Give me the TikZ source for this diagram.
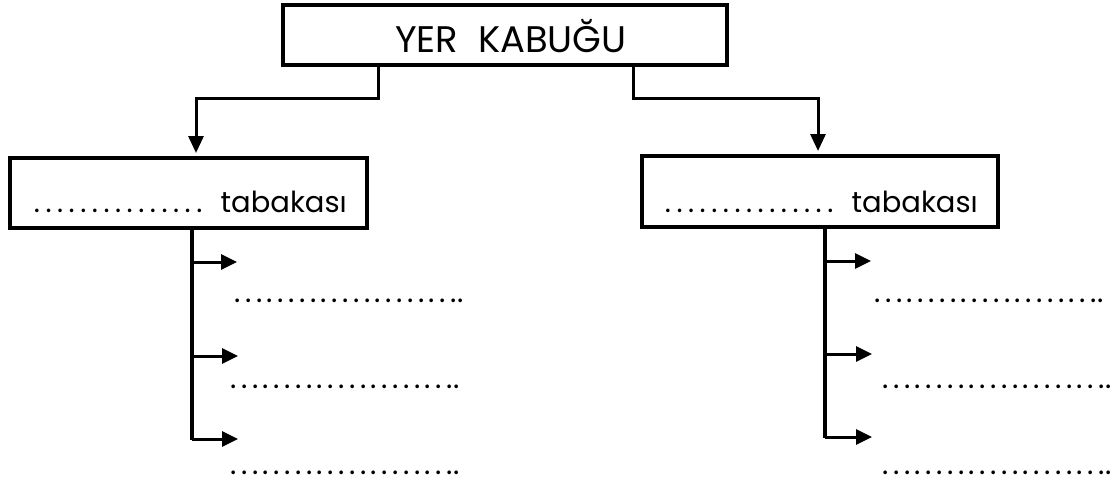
\documentclass[tikz,border=0pt]{standalone}
\usepackage{fontspec}
\setmainfont{Poppins}
\usetikzlibrary{arrows.meta}
\newcommand\dotrow[2]{\foreach \i in {1,...,#1}{\makebox[#2]{.}}}
\tikzset{
  box/.style={draw, line width=4pt, rectangle, inner sep=0pt},
  conn/.style={line width=3pt, -{Triangle[length=17pt,width=15pt]}},
  trunk/.style={line width=3.5pt},
  twig/.style={line width=3pt, -{Triangle[length=16pt,width=15pt]}},
  dotline/.style={anchor=base west, inner sep=0pt, font=\fontsize{30}{32}\selectfont},
}
\begin{document}
\begin{tikzpicture}[x=1pt,y=-1pt]
\useasboundingbox (0,0) rectangle (1118,483);
\node[box, minimum width=444pt, minimum height=60pt] (top) at (505,35) {};
\node[inner sep=0pt, font=\fontsize{37}{40}\selectfont] (toptext) at (511,36) {YER\ \ KABUĞU};
\node[box, minimum width=357pt, minimum height=70pt] (left) at (188.5,193) {};
\node[box, minimum width=356pt, minimum height=71pt] (right) at (820,191.5) {};
\node[dotline, font=\fontsize{29}{32}\selectfont] (lt) at (31,212) {\dotrow{15}{11.6pt}\ \ tabakası};
\node[dotline, font=\fontsize{29}{32}\selectfont] (rt) at (662,212) {\dotrow{15}{11.6pt}\ \ tabakası};
% top connectors
\coordinate (lb1) at (378,98);
\coordinate (lb2) at (196,98);
\coordinate (rb1) at (633,98);
\coordinate (rb2) at (818,98);
\draw[conn, shorten >=3pt] (lb1 |- top.south) -- (lb1) -- (lb2) -- (lb2 |- left.north);
\draw[conn, shorten >=3pt] (rb1 |- top.south) -- (rb1) -- (rb2) -- (rb2 |- right.north);
% left tree
\coordinate (lend) at (192,440);
\draw[trunk] (lend |- left.south) -- (lend);
\coordinate (la1) at (237,262);
\coordinate (la2) at (238,356);
\coordinate (la3) at (238,439);
\draw[twig] (la1 -| lend) -- (la1);
\draw[twig] (la2 -| lend) -- (la2);
\draw[twig] (la3 -| lend) -- (la3);
\node[dotline] (l1) at (232,302) {\dotrow{21}{10.8pt}\makebox[4pt]{.}};
\node[dotline] (l2) at (228,388) {\dotrow{21}{10.8pt}\makebox[4pt]{.}};
\node[dotline] (l3) at (228,474) {\dotrow{21}{10.8pt}\makebox[4pt]{.}};
% right tree
\coordinate (rend) at (825,438);
\draw[trunk] (rend |- right.south) -- (rend);
\coordinate (ra1) at (871,261);
\coordinate (ra2) at (872,354);
\coordinate (ra3) at (872,437);
\draw[twig] (ra1 -| rend) -- (ra1);
\draw[twig] (ra2 -| rend) -- (ra2);
\draw[twig] (ra3 -| rend) -- (ra3);
\node[dotline] (r1) at (872,302) {\dotrow{21}{10.8pt}\makebox[4pt]{.}};
\node[dotline] (r2) at (880,388) {\dotrow{21}{10.8pt}\makebox[4pt]{.}};
\node[dotline] (r3) at (880,474) {\dotrow{21}{10.8pt}\makebox[4pt]{.}};
\end{tikzpicture}
\end{document}
